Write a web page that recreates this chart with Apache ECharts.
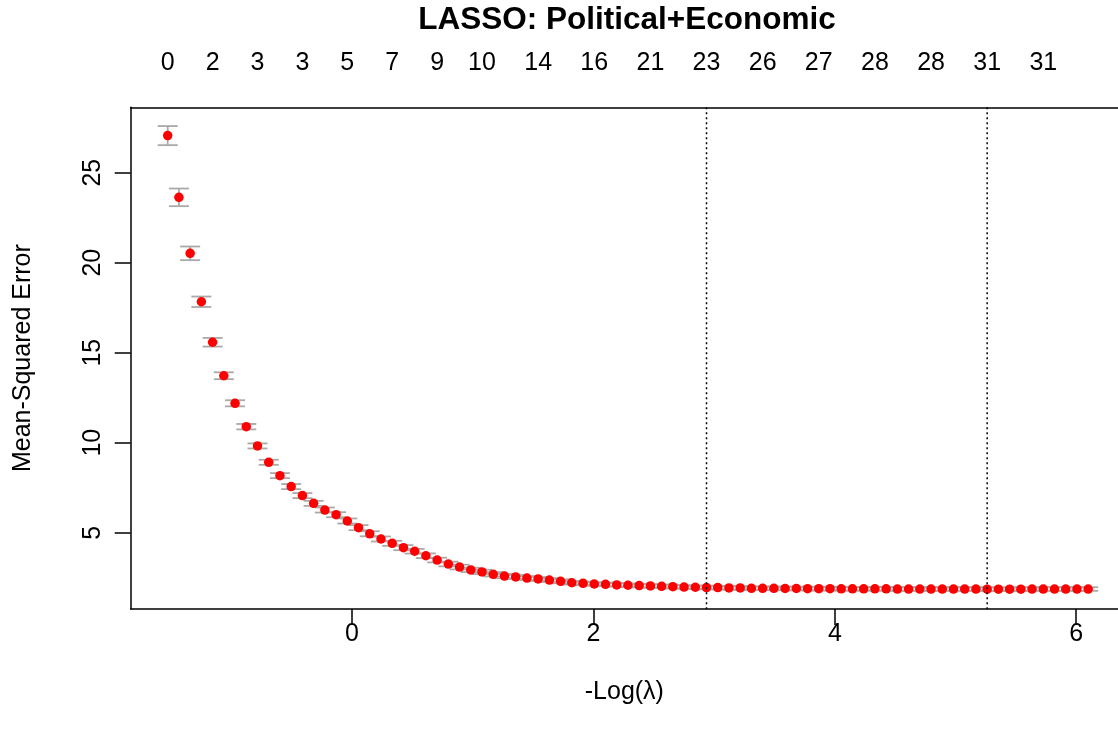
<!DOCTYPE html>
<html>
<head>
<meta charset="utf-8">
<script src="https://cdn.jsdelivr.net/npm/echarts@6/dist/echarts.min.js"></script>
<style>
html,body{margin:0;padding:0;background:#fff;}
#chart{width:1118px;height:736px;}
</style>
</head>
<body>
<div id="chart"></div>
<script>
// -log(lambda) for each lambda on the path
var negLogLambda = [
  -1.527,-1.434,-1.341,-1.248,-1.155,-1.062,-0.969,-0.876,-0.783,-0.690,
  -0.597,-0.504,-0.411,-0.318,-0.225,-0.132,-0.039,0.054,0.147,0.240,
  0.333,0.426,0.519,0.612,0.705,0.798,0.891,0.984,1.077,1.170,
  1.263,1.356,1.449,1.542,1.635,1.728,1.821,1.914,2.007,2.100,
  2.193,2.286,2.379,2.472,2.565,2.658,2.751,2.844,2.937,3.030,
  3.123,3.216,3.309,3.402,3.495,3.588,3.681,3.774,3.867,3.960,
  4.053,4.146,4.239,4.332,4.425,4.518,4.611,4.704,4.797,4.890,
  4.983,5.076,5.169,5.262,5.355,5.448,5.541,5.634,5.727,5.820,
  5.913,6.006,6.099
];
// cross-validated mean-squared error
var cvMSE = [
  27.06,23.63,20.52,17.83,15.58,13.72,12.19,10.89,9.82,8.91,
  8.17,7.56,7.06,6.63,6.26,6.00,5.65,5.28,4.94,4.65,
  4.41,4.17,3.97,3.72,3.48,3.26,3.09,2.93,2.82,2.69,
  2.59,2.54,2.48,2.43,2.37,2.30,2.22,2.19,2.15,2.13,
  2.10,2.08,2.06,2.04,2.02,2.00,1.98,1.97,1.95,1.95,
  1.93,1.93,1.91,1.91,1.91,1.90,1.90,1.89,1.89,1.89,
  1.88,1.88,1.88,1.88,1.88,1.87,1.87,1.87,1.87,1.87,
  1.87,1.87,1.87,1.86,1.86,1.86,1.86,1.87,1.87,1.87,
  1.87,1.87,1.87
];
// standard error of the CV estimate
var cvSE = [
  0.53,0.49,0.38,0.29,0.24,0.19,0.17,0.15,0.14,0.14,
  0.14,0.14,0.14,0.14,0.14,0.14,0.14,0.14,0.14,0.14,
  0.14,0.14,0.13,0.13,0.13,0.13,0.13,0.12,0.12,0.12,
  0.12,0.11,0.11,0.11,0.11,0.11,0.10,0.10,0.10,0.10,
  0.10,0.10,0.10,0.10,0.10,0.10,0.10,0.10,0.10,0.10,
  0.10,0.10,0.10,0.10,0.10,0.10,0.10,0.10,0.10,0.10,
  0.10,0.10,0.10,0.10,0.10,0.10,0.10,0.10,0.10,0.10,
  0.10,0.10,0.10,0.10,0.10,0.10,0.10,0.10,0.10,0.10,
  0.10,0.10,0.10
];
// number of nonzero coefficients shown on top axis (index into path, label)
var topLabelIndex = [0,4,8,12,16,20,24,28,33,38,43,48,53,58,63,68,73,78];
var topLabels = ['0','2','3','3','5','7','9','10','14','16','21','23','26','27','28','28','31','31'];
// lambda.1se and lambda.min positions
var vLines = [2.937, 5.262];
var xTicks = [0, 2, 4, 6];
var yTicks = [5, 10, 15, 20, 25];

var FONT = '"Liberation Sans", Arial, Helvetica, sans-serif';
var xMin = -1.8335, xMax = 6.346;
var yMin = 0.761, yMax = 28.633;

var topVals = topLabelIndex.map(function(i){ return negLogLambda[i]; });

var errData = negLogLambda.map(function(x, i){ return [x, cvMSE[i] - cvSE[i], cvMSE[i] + cvSE[i]]; });
var ptData = negLogLambda.map(function(x, i){ return [x, cvMSE[i]]; });

var frame = {show: true, onZero: false, lineStyle: {color: '#000', width: 1.5}};

var chart = echarts.init(document.getElementById('chart'), null, {renderer: 'canvas'});
var option = {
  animation: false,
  backgroundColor: '#ffffff',
  title: {
    text: 'LASSO: Political+Economic',
    left: 627, top: 4, textAlign: 'center', padding: 0,
    textStyle: {fontFamily: FONT, fontSize: 31.5, fontWeight: 'bold', color: '#000'}
  },
  grid: {
    left: 130.7, top: 107.3, right: 0, bottom: 127, show: false
  },
  xAxis: [{
    type: 'value', position: 'bottom', min: xMin, max: xMax,
    axisLine: frame,
    splitLine: {show: false},
    axisTick: {show: true, customValues: xTicks, length: 16, inside: false, lineStyle: {color: '#000', width: 1.5}},
    axisLabel: {customValues: xTicks, margin: 13, fontSize: 25, fontFamily: FONT, color: '#000',
      formatter: function(v){ return String(Math.round(v)); }},
    name: '-Log(\u03bb)', nameLocation: 'middle', nameGap: 71,
    nameTextStyle: {fontFamily: FONT, fontSize: 25, color: '#000'}
  }, {
    type: 'value', position: 'top', min: xMin, max: xMax,
    axisLine: frame, splitLine: {show: false}, axisTick: {show: false},
    axisLabel: {customValues: topVals, margin: 32, fontSize: 25, fontFamily: FONT, color: '#000',
      formatter: function(v){
        var best = 0, bd = Infinity;
        for (var k = 0; k < topVals.length; k++) { var d = Math.abs(topVals[k] - v); if (d < bd) { bd = d; best = k; } }
        return topLabels[best];
      }}
  }],
  yAxis: {
    type: 'value', min: yMin, max: yMax,
    axisLine: frame, splitLine: {show: false},
    axisTick: {show: true, customValues: yTicks, length: 16, inside: false, lineStyle: {color: '#000', width: 1.5}},
    axisLabel: {customValues: yTicks, rotate: 90, margin: 25, fontSize: 25, fontFamily: FONT, color: '#000'},
    name: 'Mean-Squared Error', nameLocation: 'middle', nameRotate: 90, nameGap: 95,
    nameTextStyle: {fontFamily: FONT, fontSize: 25, color: '#000'}
  },
  series: [{
    type: 'custom', z: 1, xAxisIndex: 0, yAxisIndex: 0,
    data: errData, encode: {x: 0, y: [1, 2]},
    renderItem: function(params, api){
      var x = api.value(0), lo = api.value(1), hi = api.value(2);
      var pLo = api.coord([x, lo]), pHi = api.coord([x, hi]);
      var cap = 10;
      var st = {stroke: '#A9A9A9', lineWidth: 1.8, fill: null};
      return {type: 'group', children: [
        {type: 'line', shape: {x1: pLo[0], y1: pLo[1], x2: pHi[0], y2: pHi[1]}, style: st},
        {type: 'line', shape: {x1: pLo[0]-cap, y1: pLo[1], x2: pLo[0]+cap, y2: pLo[1]}, style: st},
        {type: 'line', shape: {x1: pHi[0]-cap, y1: pHi[1], x2: pHi[0]+cap, y2: pHi[1]}, style: st}
      ]};
    }
  }, {
    type: 'scatter', z: 2, xAxisIndex: 0, yAxisIndex: 0,
    data: ptData, symbol: 'circle', symbolSize: 9.5,
    itemStyle: {color: '#FF0000', opacity: 1},
    emphasis: {disabled: true}
  }, {
    type: 'custom', z: 3, xAxisIndex: 0, yAxisIndex: 0,
    data: vLines.map(function(v){ return [v]; }), encode: {x: 0},
    renderItem: function(params, api){
      var cs = params.coordSys;
      var px = api.coord([api.value(0), yMin])[0];
      return {type: 'line', shape: {x1: px, y1: cs.y, x2: px, y2: cs.y + cs.height},
        style: {stroke: '#000', lineWidth: 1.5, lineDash: [2, 3]}};
    }
  }]
};
chart.setOption(option);
</script>
</body>
</html>
